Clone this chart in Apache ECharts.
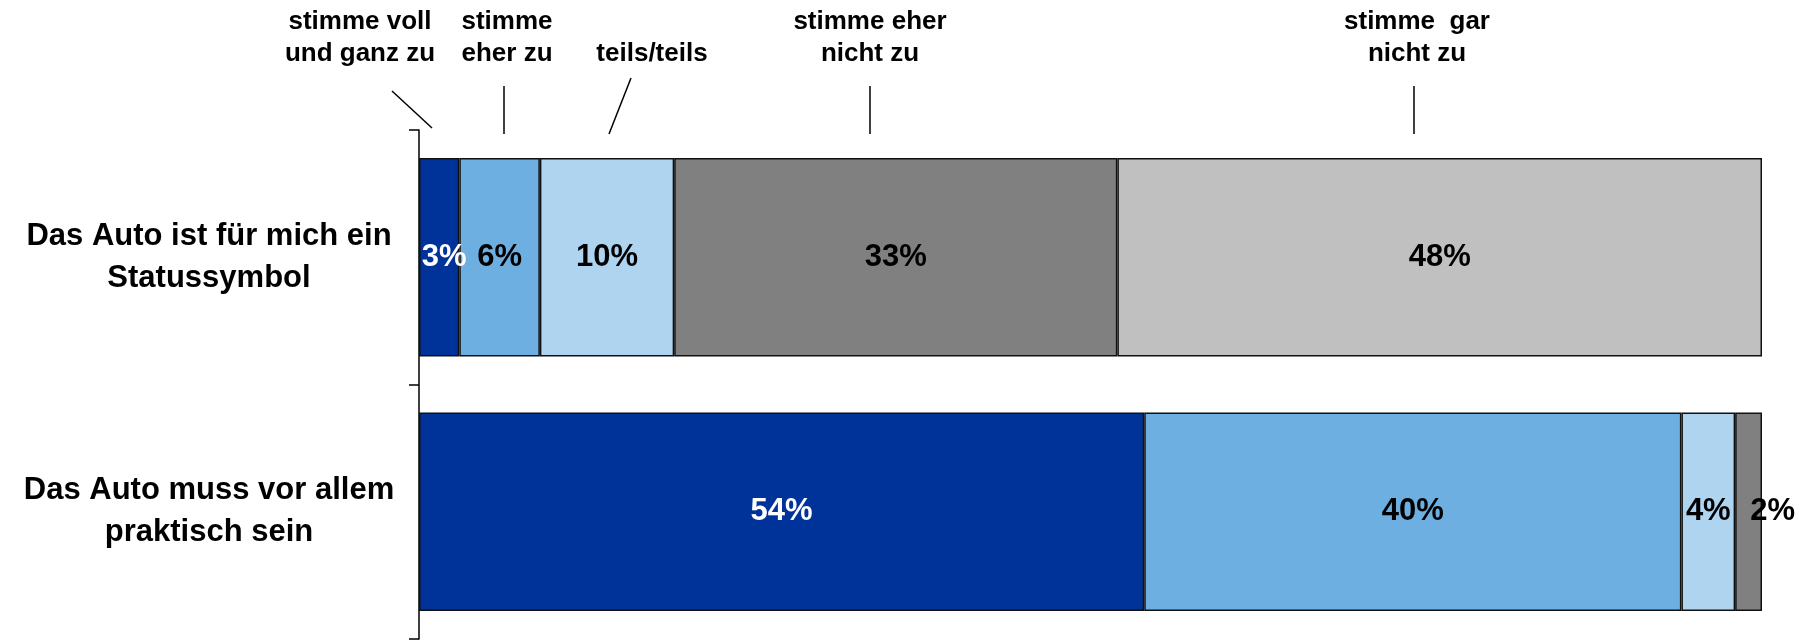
<!DOCTYPE html>
<html>
<head>
<meta charset="utf-8">
<script src="https://cdn.jsdelivr.net/npm/echarts@6/dist/echarts.min.js"></script>
<style>
  html, body { margin: 0; padding: 0; background: #fff; }
  #chart { width: 1809px; height: 644px; }
</style>
</head>
<body>
<div id="chart"></div>
<script>
// ---- data ----
const categories = ['Das Auto ist für mich ein\nStatussymbol', 'Das Auto muss vor allem\npraktisch sein'];
const seriesNames = ['stimme voll und ganz zu', 'stimme eher zu', 'teils/teils', 'stimme eher nicht zu', 'stimme gar nicht zu'];
const vollUndGanzZu = [3, 54];
const eherZu = [6, 40];
const teilsTeils = [10, 4];
const eherNichtZu = [33, 2];
const garNichtZu = [48, null];
const headerLabels = ['stimme voll\nund ganz zu', 'stimme\neher zu', 'teils/teils', 'stimme eher\nnicht zu', 'stimme  gar\nnicht zu'];

// ---- styles ----
const FONT = "'Liberation Sans', Arial, Helvetica, sans-serif";
const colors = ['#003399', '#6DAFE1', '#AED4F0', '#808080', '#C0C0C0'];
const labelColors = ['#FFFFFF', '#000000', '#000000', '#000000', '#000000'];
const allValues = [vollUndGanzZu, eherZu, teilsTeils, eherNichtZu, garNichtZu];

const series = allValues.map((vals, i) => ({
  name: seriesNames[i],
  type: 'bar',
  stack: 'total',
  barCategoryGap: '22%',
  data: vals.map((v, r) => {
    const item = { value: v };
    if (i === 3 && r === 1) item.label = { offset: [24, 0] };
    if (i === 0 && r === 0) item.label = { offset: [5, 0] };
    return item;
  }),
  itemStyle: { color: colors[i], borderColor: '#111', borderWidth: 1.5 },
  label: {
    show: true,
    position: 'inside',
    formatter: p => (p.value == null ? '' : p.value + '%'),
    color: labelColors[i],
    fontFamily: FONT,
    fontWeight: 'bold',
    fontSize: 31
  },
  emphasis: { disabled: true },
  silent: true
}));

// header annotations (text + leader lines)
const headerPos = [
  { x: 360, y: 6 },
  { x: 507, y: 6 },
  { x: 652, y: 38 },
  { x: 870, y: 6 },
  { x: 1417, y: 6 }
];
const graphic = headerLabels.map((t, i) => ({
  type: 'text',
  x: headerPos[i].x,
  y: headerPos[i].y,
  style: {
    text: t,
    fill: '#000',
    font: 'bold 26px ' + FONT,
    lineHeight: 32,
    textAlign: 'center',
    textVerticalAlign: 'top'
  }
}));
const leaders = [
  [392, 91, 432, 128],
  [504, 86, 504, 134],
  [631, 78, 609, 134],
  [870, 86, 870, 134],
  [1414, 86, 1414, 134]
];
leaders.forEach(l => graphic.push({
  type: 'line',
  shape: { x1: l[0], y1: l[1], x2: l[2], y2: l[3] },
  style: { stroke: '#000', lineWidth: 1.5 }
}));

const chart = echarts.init(document.getElementById('chart'), null, { renderer: 'canvas' });
chart.setOption({
  animation: false,
  backgroundColor: '#fff',
  grid: { left: 419, right: 47, top: 130, bottom: 5, containLabel: false },
  xAxis: { type: 'value', min: 0, max: 100, show: false },
  yAxis: {
    type: 'category',
    inverse: true,
    data: categories,
    axisLine: { show: true, lineStyle: { color: '#000', width: 1.5 } },
    axisTick: { show: true, length: 10, lineStyle: { color: '#000', width: 1.5 } },
    axisLabel: {
      align: 'center',
      margin: 210,
      fontFamily: FONT,
      fontWeight: 'bold',
      fontSize: 31,
      lineHeight: 42,
      padding: [16, 0, 0, 0],
      color: '#000'
    },
    splitLine: { show: false }
  },
  series: series,
  graphic: graphic
});
</script>
</body>
</html>
